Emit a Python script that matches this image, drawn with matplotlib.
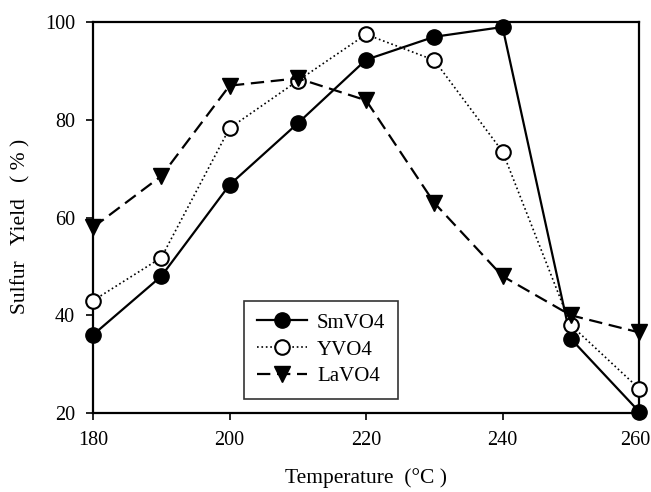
import matplotlib
matplotlib.use("Agg")
import matplotlib.pyplot as plt
import matplotlib.transforms as mtransforms

temps = [180, 190, 200, 210, 220, 230, 240, 250, 260]
smvo4 = [36.0, 48.0, 66.7, 79.3, 92.3, 97.0, 99.0, 35.2, 20.3]
yvo4 = [43.0, 51.8, 78.3, 88.0, 97.5, 92.2, 73.5, 38.0, 25.0]
lavo4 = [58.0, 68.5, 87.0, 88.5, 84.0, 63.0, 48.0, 40.0, 36.5]
xticks = [180, 200, 220, 240, 260]
yticks = [20, 40, 60, 80, 100]

plt.rcParams['font.family'] = ['Liberation Serif', 'DejaVu Serif']
fig = plt.figure(figsize=(6.51, 4.92), dpi=100)
ax = fig.add_axes([0.143, 0.1606, 0.8386, 0.7944])

ax.plot(temps, smvo4, '-', color='black', lw=1.6, marker='o', ms=11,
        mfc='black', mec='black', label='SmVO4', clip_on=False, zorder=3)
ax.plot(temps, yvo4, ':', color='black', lw=1.2, marker='o', ms=10.5,
        mfc='white', mec='black', mew=1.5, label='YVO4', clip_on=False, zorder=3)
ax.plot(temps, lavo4, '--', color='black', lw=1.6, marker='v', ms=12,
        mfc='black', mec='black', label='LaVO4', clip_on=False, dashes=(6, 3), zorder=3)

ax.set_xlim(180, 260)
ax.set_ylim(20, 100)
ax.set_xticks(xticks)
ax.set_yticks(yticks)
ax.tick_params(direction='out', length=5, width=1.2, labelsize=14.5, pad=8)
for s in ax.spines.values():
    s.set_linewidth(1.6)
ax.set_xlabel('Temperature  (°C )', fontsize=15.5, labelpad=13)
ax.set_ylabel('Sulfur   Yield   ( % )', fontsize=15.5)
ax.yaxis.set_label_coords(-0.115, 0.478)

last = ax.get_xticklabels()[-1]
last.set_transform(last.get_transform() +
                   mtransforms.ScaledTranslation(-4 / 100, 0, fig.dpi_scale_trans))

leg = ax.legend(loc='lower left', bbox_to_anchor=(0.2766, 0.036), fontsize=15,
                frameon=True, fancybox=False, edgecolor='black',
                handlelength=2.4, handletextpad=0.5, borderpad=0.6, labelspacing=0.35,
                borderaxespad=0)
leg.get_frame().set_linewidth(1.2)

fig.savefig('out.png', dpi=100)
